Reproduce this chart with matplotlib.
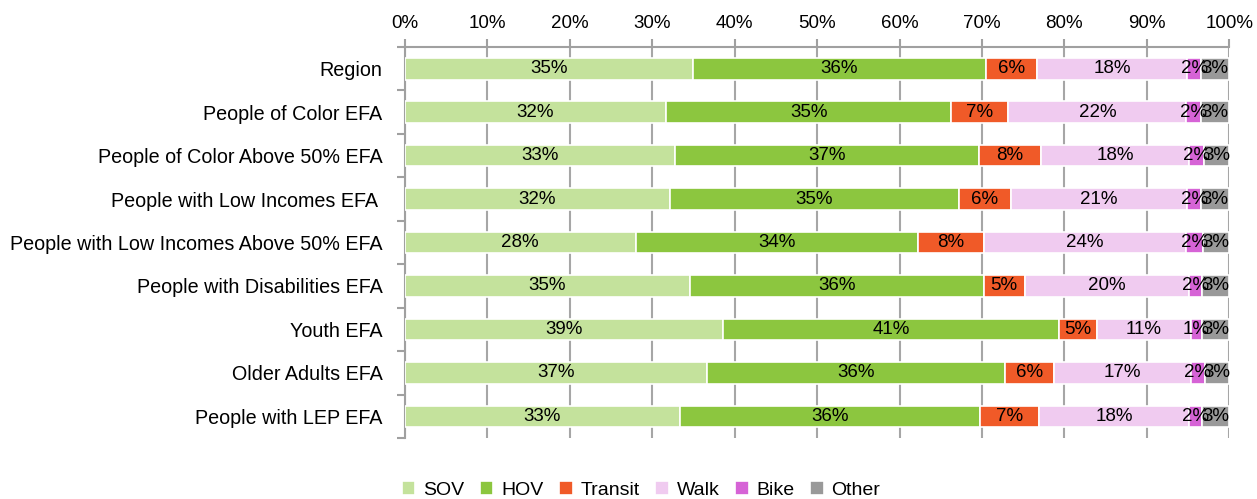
import numpy as np
import matplotlib
matplotlib.use("Agg")
import matplotlib.pyplot as plt
from matplotlib.ticker import PercentFormatter, MultipleLocator, FixedLocator

plt.rcParams['font.family'] = ['Liberation Sans', 'DejaVu Sans']

# ==== Daten (Prozent, aus dem Bild geschaetzt) ====
groups = [
    "Region",
    "People of Color EFA",
    "People of Color Above 50% EFA",
    "People with Low Incomes EFA ",
    "People with Low Incomes Above 50% EFA",
    "People with Disabilities EFA",
    "Youth EFA",
    "Older Adults EFA",
    "People with LEP EFA",
]
modes = ["SOV", "HOV", "Transit", "Walk", "Bike", "Other"]

sov     = [34.9, 31.7, 32.8, 32.2, 28.0, 34.6, 38.6, 36.6, 33.4]
hov     = [35.6, 34.6, 36.8, 35.0, 34.2, 35.6, 40.7, 36.2, 36.4]
transit = [6.2, 6.9, 7.6, 6.3, 8.1, 5.0, 4.6, 5.9, 7.1]
walk    = [18.2, 21.6, 17.9, 21.4, 24.4, 19.9, 11.4, 16.7, 18.2]
bike    = [1.7, 1.8, 1.8, 1.7, 2.1, 1.6, 1.4, 1.6, 1.6]
other   = [3.4, 3.4, 3.1, 3.4, 3.2, 3.3, 3.3, 3.0, 3.3]

colors = ["#c4e29c", "#8cc63f", "#f05a28", "#f0cbf0", "#d663d6", "#999999"]

series = [sov, hov, transit, walk, bike, other]

fig = plt.figure(figsize=(12.57, 4.99), dpi=100)
ax = fig.add_axes([0.322, 0.122, 0.656, 0.784])

y = np.arange(len(groups))
left = np.zeros(len(groups))
for name, vals, col in zip(modes, series, colors):
    vals = np.array(vals)
    ax.barh(y, vals, left=left, height=0.5, color=col, edgecolor="white",
            linewidth=1.2, label=name, zorder=3)
    for yi, l, v in zip(y, left, vals):
        ax.text(l + v / 2, yi, f"{v:.0f}%", ha="center", va="center",
                fontsize=13.5, color="black", zorder=4)
    left += vals

ax.set_xlim(0, 100)
ax.set_ylim(len(groups) - 0.5, -0.5)
ax.xaxis.set_major_locator(MultipleLocator(10))
ax.xaxis.set_major_formatter(PercentFormatter(decimals=0))
ax.xaxis.tick_top()
ax.tick_params(axis="x", length=6, color="#a0a0a0", width=1.5, labelsize=13.5, pad=5)
ax.grid(axis="x", color="#a6a6a6", linewidth=1.5, zorder=0)

ax.set_yticks(y)
ax.set_yticklabels(groups, fontsize=14.2)
ax.tick_params(axis="y", which="major", length=0, pad=16)
ax.yaxis.set_minor_locator(FixedLocator(np.arange(-0.5, len(groups), 1.0)))
ax.tick_params(axis="y", which="minor", length=6, color="#a0a0a0", width=1.5)

for s in ["right", "bottom"]:
    ax.spines[s].set_visible(False)
for s in ["top", "left"]:
    ax.spines[s].set_color("#a0a0a0")
    ax.spines[s].set_linewidth(1.5)

fig.legend(loc="lower center", bbox_to_anchor=(0.51, -0.035), ncol=6,
           frameon=False, fontsize=14, handlelength=0.7, handleheight=0.7,
           handletextpad=0.4, columnspacing=0.8)

fig.savefig("out.png", dpi=100)
